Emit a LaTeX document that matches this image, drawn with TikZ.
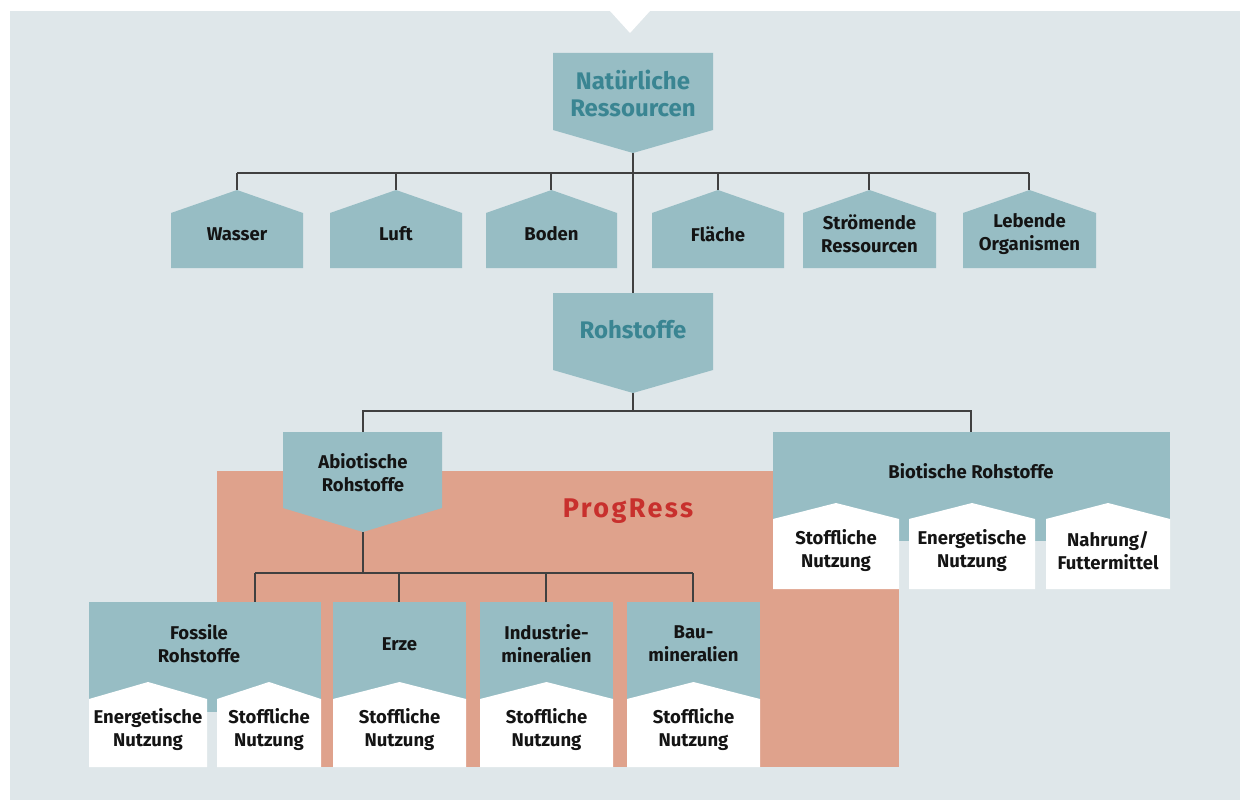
\documentclass[tikz,border=0pt]{standalone}
\usepackage{fontspec}
\setmainfont{Fira Sans}
\definecolor{bgc}{HTML}{DFE7EA}
\definecolor{teal}{HTML}{97BDC4}
\definecolor{salm}{HTML}{DFA28C}
\definecolor{dteal}{HTML}{3A8592}
\definecolor{pred}{HTML}{C8302D}
\definecolor{linec}{HTML}{404040}
\definecolor{txt}{HTML}{141414}
\begin{document}
\begin{tikzpicture}[x=1pt,y=-1pt,
  conn/.style={draw=linec,line width=1.3pt},
  lbl/.style={inner sep=0pt,align=center,text=txt,font=\bfseries\fontsize{18.5}{23}\selectfont},
  big/.style={inner sep=0pt,align=center,text=dteal,font=\bfseries\fontsize{24}{27}\selectfont}]
\useasboundingbox (0,0) rectangle (1240,800);
\fill[white] (0,0) rectangle (1240,800);
\fill[bgc] (10,11) rectangle (1240,800);
\fill[white] (610,11) -- (650,11) -- (630,33) -- cycle;

% coordinates for connectors
\coordinate (natB) at (633,153);
\coordinate (j1) at (633,173);
\coordinate (rohT) at (633,293);
\coordinate (rohB) at (633,393);
\coordinate (j2) at (633,411);
\coordinate (abioT) at (363,432);
\coordinate (bioT) at (971,432);
\coordinate (abioB) at (363,532);
\coordinate (j3) at (363,573);
\coordinate (wasT) at (237,190);
\coordinate (lufT) at (396,190);
\coordinate (bodT) at (551,190);
\coordinate (flaT) at (718,190);
\coordinate (strT) at (869,190);
\coordinate (lebT) at (1029,190);
\coordinate (fosT) at (255,602);
\coordinate (erzT) at (399,602);
\coordinate (indT) at (546,602);
\coordinate (bauT) at (693,602);

% ProgRess area
\fill[salm] (217,471) rectangle (899,767);
\node[inner sep=0pt,text=pred,font=\bfseries\fontsize{27}{30}\selectfont\addfontfeature{LetterSpace=9}] (prog) at (628,511) {ProgRess};

% connectors
\draw[conn] (natB) -- (rohT);
\draw[conn] (wasT |- j1) -- (lebT |- j1);
\foreach \c in {wasT,lufT,bodT,flaT,strT,lebT} \draw[conn] (\c |- j1) -- (\c);
\draw[conn] (rohB) -- (j2);
\draw[conn] (abioT) -- (abioT |- j2) -- (bioT |- j2) -- (bioT);
\draw[conn] (abioB) -- (j3);
\draw[conn] (fosT |- j3) -- (bauT |- j3);
\foreach \c in {fosT,erzT,indT,bauT} \draw[conn] (\c |- j3) -- (\c);

% Natuerliche Ressourcen
\fill[teal] (553,53) -- (713,53) -- (713,130) -- (natB) -- (553,130) -- cycle;
\node[big] (nat) at (633,93) {Natürliche\\Ressourcen};

% houses
\foreach \xa/\xb/\nm/\t in {171/303/wasser/Wasser,330/462/luft/Luft,486/617/boden/Boden,652/784/flaeche/Fläche,803/936/stroem/{Strömende\\Ressourcen},963/1096/lebend/{Lebende\\Organismen}}{
  \fill[teal] (\xa,213) -- ({(\xa+\xb)/2},190) -- (\xb,213) -- (\xb,268) -- (\xa,268) -- cycle;
  \node[lbl] (\nm) at ({(\xa+\xb)/2},234) {\t};
}

% Rohstoffe
\fill[teal] (553,293) -- (713,293) -- (713,370) -- (rohB) -- (553,370) -- cycle;
\node[big] (roh) at (633,330) {Rohstoffe};

% Abiotische
\fill[teal] (283,432) -- (442,432) -- (442,508) -- (abioB) -- (283,508) -- cycle;
\node[lbl] (abio) at (363,473) {Abiotische\\Rohstoffe};

% Biotische
\fill[teal] (773,432) rectangle (1170,541);
\node[lbl] (bio) at (971,471) {Biotische Rohstoffe};
\foreach \xa/\xb/\nm/\t in {773/899/bst/{Stoffliche\\Nutzung},909/1035/ben/{Energetische\\Nutzung},1046/1170/bnf/{Nahrung/\\Futtermittel}}{
  \fill[white] (\xa,519) -- ({(\xa+\xb)/2},503) -- (\xb,519) -- (\xb,589) -- (\xa,589) -- cycle;
  \node[lbl] (\nm) at ({(\xa+\xb)/2},551) {\t};
}

% Fossile
\fill[teal] (89,602) rectangle (321,712);
\node[lbl] (fos) at (199,644) {Fossile\\Rohstoffe};
\foreach \xa/\xb/\nm/\t in {89/207/fen/{Energetische\\Nutzung},217/321/fst/{Stoffliche\\Nutzung}}{
  \fill[white] (\xa,699) -- ({(\xa+\xb)/2},682) -- (\xb,699) -- (\xb,767) -- (\xa,767) -- cycle;
  \node[lbl] (\nm) at ({(\xa+\xb)/2},730) {\t};
}

% Erze, Industrie, Bau
\foreach \xa/\xb/\nm/\t in {333/466/erze/Erze,480/613/indus/{Industrie-\\mineralien},627/760/bau/{Bau-\\mineralien}}{
  \fill[teal] (\xa,602) rectangle (\xb,699);
  \fill[white] (\xa,699) -- ({(\xa+\xb)/2},682) -- (\xb,699) -- (\xb,767) -- (\xa,767) -- cycle;
  \node[lbl] (\nm) at ({(\xa+\xb)/2},644) {\t};
  \node[lbl] (\nm st) at ({(\xa+\xb)/2},730) {Stoffliche\\Nutzung};
}
\end{tikzpicture}
\end{document}
